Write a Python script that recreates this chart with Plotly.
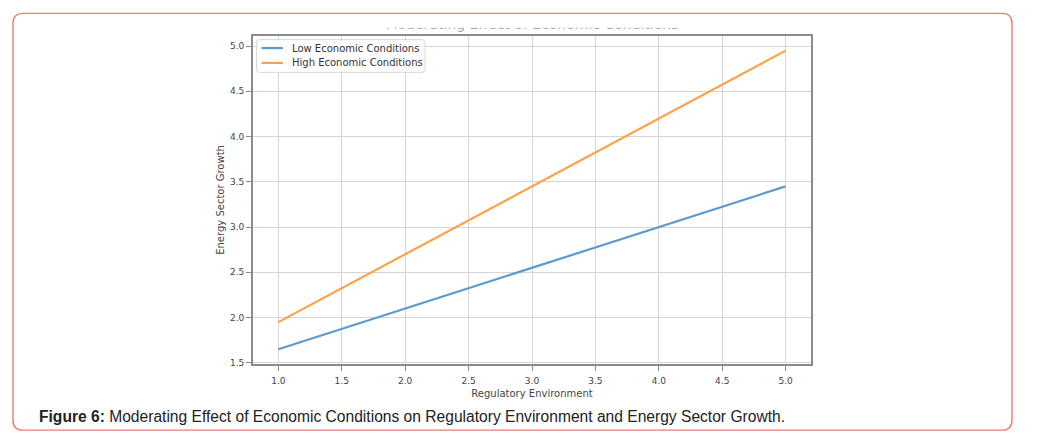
import plotly.graph_objects as go

W, H = 1043, 445

# Data
reg_env = [1.0, 2.0, 3.0, 4.0, 5.0]
low_econ = [1.65, 2.10, 2.55, 3.00, 3.45]
high_econ = [1.95, 2.70, 3.45, 4.20, 4.95]
series_names = ["Low Economic Conditions", "High Economic Conditions"]
series_colors = ["#5b9bd0", "#ffa04a"]

x_ticks = [1.0, 1.5, 2.0, 2.5, 3.0, 3.5, 4.0, 4.5, 5.0]
y_ticks = [1.5, 2.0, 2.5, 3.0, 3.5, 4.0, 4.5, 5.0]

chart_title = "Moderating Effect of Economic Conditions"
caption_bold = "Figure 6:"
caption_rest = " Moderating Effect of Economic Conditions on Regulatory Environment and Energy Sector Growth."


def px(x):
    return x / W


def py(y):
    return 1 - y / H


def rounded_path(x0, y0, x1, y1, r):
    rx, ry = r / W, r / H
    return (f"M {px(x0)+rx},{py(y0)} L {px(x1)-rx},{py(y0)} Q {px(x1)},{py(y0)} {px(x1)},{py(y0)-ry} "
            f"L {px(x1)},{py(y1)+ry} Q {px(x1)},{py(y1)} {px(x1)-rx},{py(y1)} "
            f"L {px(x0)+rx},{py(y1)} Q {px(x0)},{py(y1)} {px(x0)},{py(y1)+ry} "
            f"L {px(x0)},{py(y0)-ry} Q {px(x0)},{py(y0)} {px(x0)+rx},{py(y0)} Z")


# plot area in pixels
L, R, T, B = 253, 811, 36, 367.5

fig = go.Figure()
for yv, nm, col in zip([low_econ, high_econ], series_names, series_colors):
    fig.add_trace(go.Scatter(x=reg_env, y=yv, mode="lines", name=nm, showlegend=False,
                             line=dict(color=col, width=2.2)))

# clipped chart title (only its lower part is visible in the reference)
fig.add_trace(go.Scatter(x=[0.5], y=[1.3], mode="text", text=[chart_title],
                         textfont=dict(family="DejaVu Sans", size=14, color="#a8a8a8"),
                         textposition="middle center", cliponaxis=True, showlegend=False,
                         hoverinfo="skip", xaxis="x2", yaxis="y2"))

axis_common = dict(showline=True, linecolor="#8c8c8c", linewidth=1.8, mirror=True,
                   ticks="outside", ticklen=5, tickcolor="#8c8c8c", tickwidth=1,
                   showgrid=True, gridcolor="#d6d6d6", gridwidth=1.4, zeroline=False,
                   tickfont=dict(family="DejaVu Sans", size=9, color="#444"))

fig.update_layout(
    width=W, height=H,
    margin=dict(l=0, r=0, t=0, b=0),
    paper_bgcolor="white", plot_bgcolor="white",
    showlegend=False,
    xaxis=dict(domain=[px(L), px(R)], range=[0.8, 5.2], tickvals=x_ticks,
               ticktext=[f"{v:.1f}" for v in x_ticks], ticklabelstandoff=2,
               title=dict(text="Regulatory Environment", standoff=5,
                          font=dict(family="DejaVu Sans", size=10, color="#444")),
               **axis_common),
    yaxis=dict(domain=[py(B), py(T)], range=[1.485, 5.115], tickvals=y_ticks,
               ticktext=[f"{v:.1f}" for v in y_ticks], ticklabelstandoff=0,
               title=dict(text="Energy Sector Growth", standoff=3,
                          font=dict(family="DejaVu Sans", size=10, color="#444")),
               **axis_common),
    xaxis2=dict(domain=[px(L), px(R)], range=[0, 1], visible=False, anchor="y2"),
    yaxis2=dict(domain=[py(36), py(28)], range=[0, 1], visible=False, anchor="x2"),
)

# legend (drawn manually to match the compact matplotlib legend)
fig.add_shape(type="path", path=rounded_path(256.5, 40, 425, 73, 3), xref="paper", yref="paper",
              line=dict(color="#d8d8d8", width=1), fillcolor="rgba(255,255,255,0.85)")
for i, (nm, col) in enumerate(zip(series_names, series_colors)):
    yy = 48.5 + 15 * i
    fig.add_shape(type="line", x0=px(261.5), x1=px(283), y0=py(yy), y1=py(yy), xref="paper", yref="paper",
                  line=dict(color=col, width=2.2))
    fig.add_annotation(x=px(290), y=py(yy), xref="paper", yref="paper", xanchor="left", yanchor="middle",
                       showarrow=False, text=nm,
                       font=dict(family="DejaVu Sans", size=10, color="#333"))

# rounded border
fig.add_shape(type="path", path=rounded_path(13, 13.5, 1012, 434, 10), xref="paper", yref="paper",
              line=dict(color="#ef7b72", width=1.4), fillcolor="rgba(0,0,0,0)")

fig.add_annotation(x=px(37), y=py(420), xref="paper", yref="paper", xanchor="left", yanchor="middle",
                   showarrow=False, align="left",
                   text=f"<b>{caption_bold}</b>{caption_rest}",
                   font=dict(family="Liberation Sans, Arial", size=15.6, color="#222"))

fig.write_html("out.html")
